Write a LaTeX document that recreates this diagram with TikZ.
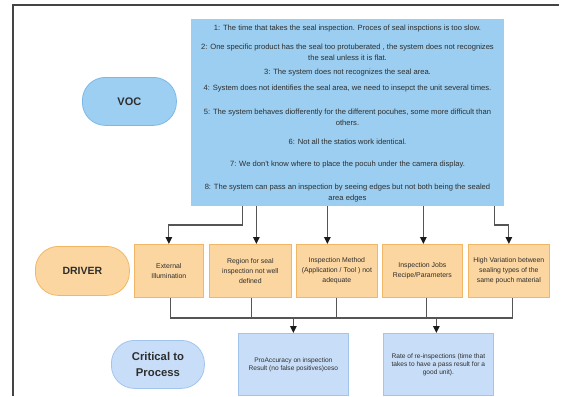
\documentclass[tikz,border=0pt]{standalone}
\usepackage{fontspec}
\setmainfont{Liberation Sans}
\usetikzlibrary{arrows.meta}
\definecolor{vocfill}{HTML}{9DCFF2}
\definecolor{vocdraw}{HTML}{7DB9E6}
\definecolor{boxblue}{HTML}{9BCEF0}
\definecolor{orfill}{HTML}{FCD6A0}
\definecolor{ordraw}{HTML}{F2B766}
\definecolor{ctpfill}{HTML}{C8DEF8}
\definecolor{ctpdraw}{HTML}{A2C5EE}
\definecolor{linec}{HTML}{555555}
\definecolor{tipc}{HTML}{1A1A1A}
\definecolor{txt}{HTML}{2E2E2E}
\definecolor{framec}{HTML}{444444}
\begin{document}
\begin{tikzpicture}[x=1pt,y=1pt,
  pill/.style={rounded corners=23pt, line width=0.8pt, minimum width=94pt,
    minimum height=48pt, text=txt, align=center, inner sep=0pt, anchor=north west},
  bigbox/.style={fill=boxblue, draw=none, anchor=north west, inner sep=0pt},
  vtxt/.style={text=txt, align=center, font=\fontsize{7.6}{10.8}\selectfont, inner sep=0pt},
  drv/.style={fill=orfill, draw=ordraw, line width=0.7pt, anchor=north west,
    minimum height=53pt, text=txt, align=center, inner sep=1pt,
    font=\fontsize{6.9}{10}\selectfont},
  ctp/.style={fill=ctpfill, draw=ctpdraw, line width=0.7pt, anchor=north west,
    minimum width=110pt, minimum height=62pt, text=txt, align=center, inner sep=1pt,
    font=\fontsize{6.6}{8}\selectfont},
  conn/.style={draw=linec, line width=1.2pt},
  arr/.style={draw=linec, line width=1.2pt,
    -{Triangle[width=6.5pt,length=7pt,color=tipc,fill=tipc]}},
  frame/.style={draw=framec, line width=1.5pt}
]
\useasboundingbox (0,0) rectangle (564,-396);
% frame
\draw[frame] (13,-396) -- (13,-5) -- (559,-5);

% left pills
\node[pill, fill=vocfill, draw=vocdraw, font=\bfseries\fontsize{11}{16}\selectfont] (voc) at (82,-77) {VOC};
\node[pill, fill=orfill, draw=ordraw, font=\bfseries\fontsize{10.5}{14}\selectfont, minimum height=49pt] (driver) at (35,-246) {DRIVER};
\node[pill, fill=ctpfill, draw=ctpdraw, font=\bfseries\fontsize{11.3}{16.5}\selectfont, minimum width=93pt] (critical) at (111,-340) {Critical to\\Process};

% VOC box
\node[bigbox, minimum width=313pt, minimum height=187pt] (vb) at (191,-19) {};
\node[vtxt] (v1) at (347.5,-29) {1: The time that takes the seal inspection. Proces of seal inspctions is too slow.};
\node[vtxt] (v2) at (347.5,-52.5) {2: One specific product has the seal too protuberated , the system does not recognizes\\the seal unless it is flat.};
\node[vtxt] (v3) at (347.5,-73) {3: The system does not recognizes the seal area.};
\node[vtxt] (v4) at (347.5,-89) {4: System does not identifies the seal area, we need to insepct the unit several times.};
\node[vtxt] (v5) at (347.5,-117) {5: The system behaves diofferently for the different pocuhes, some more difficult than\\others.};
\node[vtxt] (v6) at (347.5,-142) {6: Not all the statios work identical.};
\node[vtxt] (v7) at (347.5,-165) {7: We don't know where to place the pocuh under the camera display.};
\node[vtxt] (v8) at (347.5,-193) {8: The system can pass an inspection by seeing edges but not both being the sealed\\area edges};

% driver boxes
\node[drv, minimum width=69pt] (d1) at (134,-244) {External\\Illumination};
\node[drv, minimum width=82pt] (d2) at (209,-244) {Region for seal\\inspection not well\\defined};
\node[drv, minimum width=81pt] (d3) at (296,-244) {Inspection Method\\(Application / Tool ) not\\adequate};
\node[drv, minimum width=80pt] (d4) at (382,-244) {Inspection Jobs\\Recipe/Parameters};
\node[drv, minimum width=81pt] (d5) at (468,-244) {High Variation between\\sealing types of the\\same pouch material};

% CTP boxes
\node[ctp] (c1) at (238,-333) {ProAccuracy on inspection\\Result (no false positives)ceso};
\node[ctp] (c2) at (383,-333) {Rate of re-inspections (time that\\takes to have a pass result for a\\good unit).};

% arrows VOC -> drivers
\coordinate (bend) at (0,-225);
\draw[arr] ([xshift=-105.5pt]vb.south) -- ([xshift=-105.5pt]vb.south |- bend) -| (d1.north);
\draw[arr] ([xshift=6pt]d2.north |- vb.south) -- ([xshift=6pt]d2.north);
\draw[arr] ([xshift=-9.5pt]d3.north |- vb.south) -- ([xshift=-9.5pt]d3.north);
\draw[arr] ([xshift=1pt]d4.north |- vb.south) -- ([xshift=1pt]d4.north);
\draw[arr] ([xshift=146.5pt]vb.south) -- ([xshift=146.5pt]vb.south |- bend) -| (d5.north);

% bus drivers -> CTP
\coordinate (bus) at (0,-318);
\draw[conn] ([xshift=2pt]d1.south) -- ([xshift=2pt]d1.south |- bus) -- ([xshift=3.5pt]d5.south |- bus) -- ([xshift=3.5pt]d5.south);
\draw[conn] ([xshift=1pt]d2.south) -- ([xshift=1pt]d2.south |- bus);
\draw[conn] (d3.south) -- (d3.south |- bus);
\draw[conn] ([xshift=4.5pt]d4.south) -- ([xshift=4.5pt]d4.south |- bus);
\draw[arr] (c1.north |- bus) -- (c1.north);
\draw[arr] ([xshift=-2pt]c2.north |- bus) -- ([xshift=-2pt]c2.north);
\end{tikzpicture}
\end{document}
